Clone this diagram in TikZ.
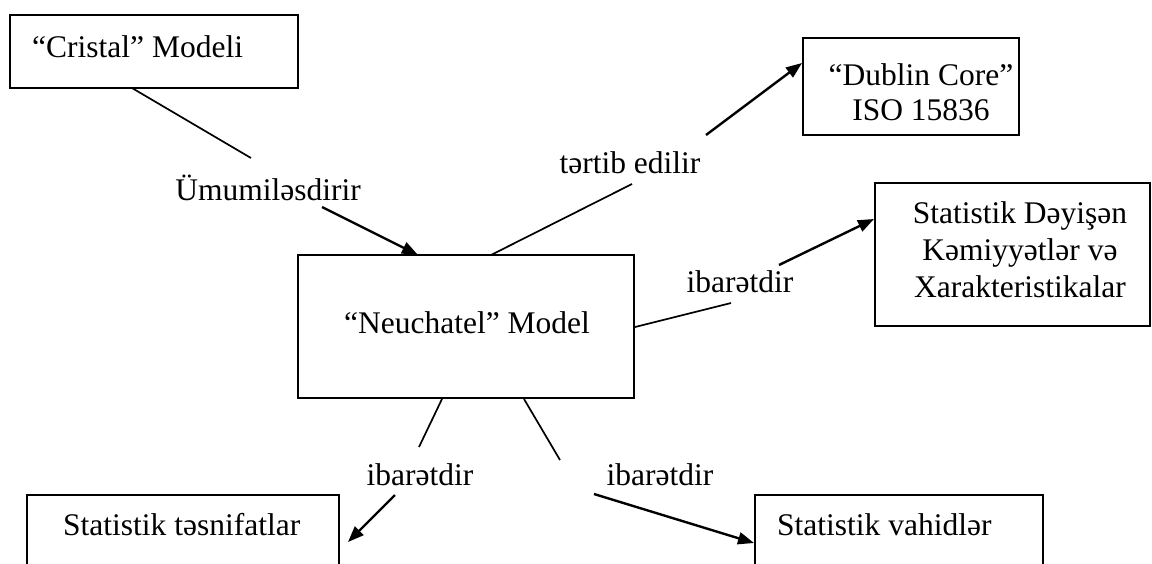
\documentclass[tikz,border=0pt]{standalone}
\usepackage{fontspec}
\setmainfont{Liberation Serif}
\usetikzlibrary{arrows.meta}
\begin{document}
\begin{tikzpicture}[x=1pt,y=-1pt,
  every node/.style={font=\fontsize{31.5}{37}\selectfont, inner sep=0pt},
  box/.style={draw, line width=2pt},
  link/.style={line width=1.7pt},
  flow/.style={line width=2.4pt, -{Triangle[length=16pt,width=12pt]}},
]
\useasboundingbox (0,0) rectangle (1152,563);
\clip (0,0) rectangle (1152,563);

% boxes
\node[box, minimum width=288pt, minimum height=73pt]  (cristal) at (154,51.5) {};
\node[box, minimum width=336pt, minimum height=143pt] (neu)     at (466,326.5) {};
\node[box, minimum width=216pt, minimum height=97pt]  (dublin)  at (911,86.5) {};
\node[box, minimum width=275pt, minimum height=143pt] (stat)    at (1012.5,254.5) {};
\node[box, minimum width=312pt, minimum height=120pt] (tesnif)  at (183,555) {};
\node[box, minimum width=288pt, minimum height=120pt] (vahid)   at (899,555) {};

% box texts (multi-line nodes sit on the baseline of their last line)
\node[anchor=base west] (cristalT) at (32,57) {“Cristal” Modeli};
\node[anchor=base] (neuT) at (467,333) {“Neuchatel” Model};
\node[anchor=base, align=center] (dublinT) at (921,120) {“Dublin Core”\\[-2pt]ISO 15836};
\node[anchor=base, align=center] (statT) at (1020,297) {Statistik Dəyişən\\Kəmiyyətlər və\\Xarakteristikalar};
\node[anchor=base west] (tesnifT) at (63,535) {Statistik təsnifatlar};
\node[anchor=base west] (vahidT) at (777,535) {Statistik vahidlər};

% relation labels
\node[anchor=base] (lumum)   at (268,200) {Ümumiləsdirir};
\node[anchor=base] (ltertib) at (630,173) {tərtib edilir};
\node[anchor=base] (lright)  at (740,292) {ibarətdir};
\node[anchor=base] (lleft)   at (420,485) {ibarətdir};
\node[anchor=base] (lbr)     at (660,485) {ibarətdir};

% connector end points
\coordinate (a1) at (132,88);  \coordinate (a2) at (251,158);
\coordinate (a3) at (322,207); \coordinate (a4) at (418,255);
\coordinate (b1) at (491,255); \coordinate (b2) at (632,184);
\coordinate (b3) at (706,135); \coordinate (b4) at (802,63);
\coordinate (c1) at (635,327); \coordinate (c2) at (731,303);
\coordinate (c3) at (779,265); \coordinate (c4) at (874,219);
\coordinate (d1) at (442,399); \coordinate (d2) at (419,447);
\coordinate (d3) at (395,495); \coordinate (d4) at (348,542);
\coordinate (e1) at (524,399); \coordinate (e2) at (560,460);
\coordinate (e3) at (594,494); \coordinate (e4) at (754,543);

% connectors
\draw[link] (a1) -- (a2);  \draw[flow] (a3) -- (a4);
\draw[link] (b1) -- (b2);  \draw[flow] (b3) -- (b4);
\draw[link] (c1) -- (c2);  \draw[flow] (c3) -- (c4);
\draw[link] (d1) -- (d2);  \draw[flow] (d3) -- (d4);
\draw[link] (e1) -- (e2);  \draw[flow] (e3) -- (e4);
\end{tikzpicture}
\end{document}
